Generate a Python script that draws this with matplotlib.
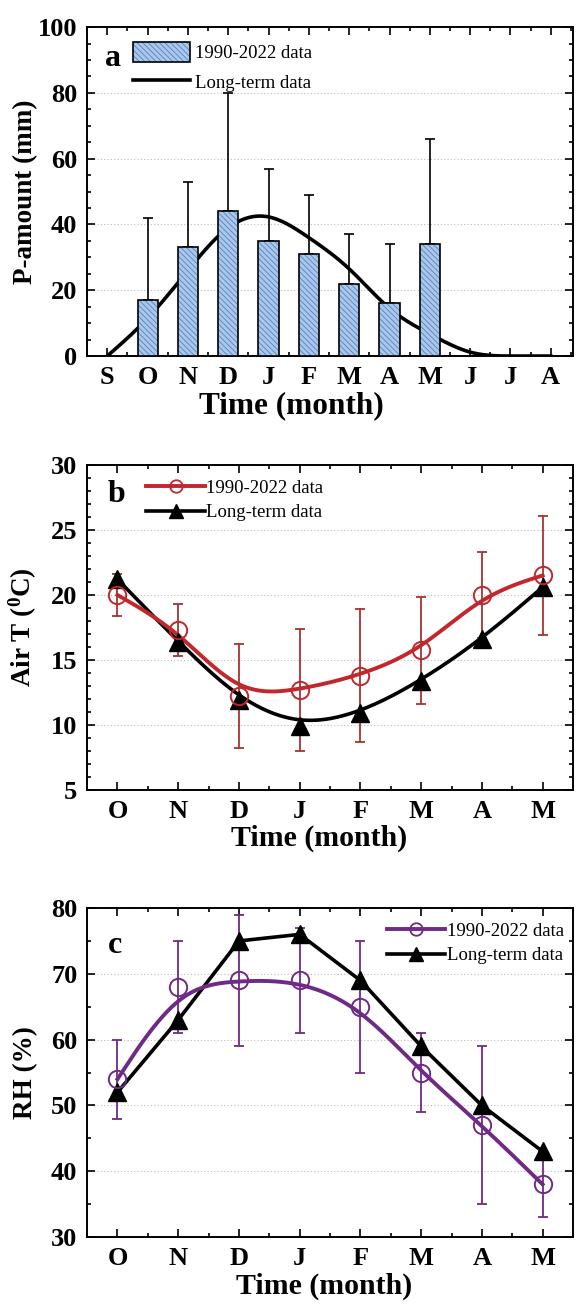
import numpy as np
import matplotlib
matplotlib.use("Agg")
import matplotlib.pyplot as plt
from matplotlib.ticker import MultipleLocator

plt.rcParams['font.family'] = ['Liberation Serif', 'DejaVu Serif']
plt.rcParams['hatch.linewidth'] = 0.6
plt.rcParams['mathtext.fontset'] = 'custom'
plt.rcParams['mathtext.rm'] = 'Liberation Serif'
plt.rcParams['mathtext.bf'] = 'Liberation Serif:bold'

# ---------------- data ----------------
months_a = ['S', 'O', 'N', 'D', 'J', 'F', 'M', 'A', 'M', 'J', 'J', 'A']
p_recent = [17, 33, 44, 35, 31, 22, 16, 34]          # O..M bars
p_recent_err = [25, 20, 36, 22, 18, 15, 18, 32]      # upper error
p_long = [0, 11.5, 26, 39, 42.3, 36, 26.5, 14.5, 6.7, 1.2, 0, 0]

months_bc = ['O', 'N', 'D', 'J', 'F', 'M', 'A', 'M']
t_recent = [20.0, 17.3, 12.2, 12.7, 13.8, 15.75, 20.0, 21.5]
t_recent_err = [1.6, 2.0, 4.0, 4.7, 5.1, 4.1, 3.3, 4.6]
t_long = [21.2, 16.4, 11.9, 9.9, 10.9, 13.4, 16.6, 20.6]

rh_recent = [54, 68, 69, 69, 65, 55, 47, 38]
rh_recent_err = [6, 7, 10, 8, 10, 6, 12, 5]
rh_long = [52, 63, 75, 76, 69, 59, 50, 43]


def natural_spline(x, y, n=300):
    x = np.asarray(x, float)
    y = np.asarray(y, float)
    m = len(x)
    h = np.diff(x)
    A = np.zeros((m, m))
    b = np.zeros(m)
    A[0, 0] = 1
    A[-1, -1] = 1
    for i in range(1, m - 1):
        A[i, i - 1] = h[i - 1]
        A[i, i] = 2 * (h[i - 1] + h[i])
        A[i, i + 1] = h[i]
        b[i] = 3 * ((y[i + 1] - y[i]) / h[i] - (y[i] - y[i - 1]) / h[i - 1])
    c = np.linalg.solve(A, b)
    xs = np.linspace(x[0], x[-1], n)
    ys = np.empty_like(xs)
    for k, xv in enumerate(xs):
        i = min(np.searchsorted(x, xv, side='right') - 1, m - 2)
        dx = xv - x[i]
        bi = (y[i + 1] - y[i]) / h[i] - h[i] * (2 * c[i] + c[i + 1]) / 3
        di = (c[i + 1] - c[i]) / (3 * h[i])
        ys[k] = y[i] + bi * dx + c[i] * dx ** 2 + di * dx ** 3
    return xs, ys


def bspline(x, y, n=40):
    """Uniform cubic B-spline using the data as control points (clamped ends)."""
    px = np.concatenate([[x[0]] * 2, x, [x[-1]] * 2]).astype(float)
    py = np.concatenate([[y[0]] * 2, y, [y[-1]] * 2]).astype(float)
    t = np.linspace(0, 1, n)
    b0 = (1 - t) ** 3 / 6
    b1 = (3 * t ** 3 - 6 * t ** 2 + 4) / 6
    b2 = (-3 * t ** 3 + 3 * t ** 2 + 3 * t + 1) / 6
    b3 = t ** 3 / 6
    xs, ys = [], []
    for i in range(len(px) - 3):
        xs.append(b0 * px[i] + b1 * px[i + 1] + b2 * px[i + 2] + b3 * px[i + 3])
        ys.append(b0 * py[i] + b1 * py[i + 1] + b2 * py[i + 2] + b3 * py[i + 3])
    return np.concatenate(xs), np.concatenate(ys)


fig = plt.figure(figsize=(5.77, 13.09), dpi=100)

TICK_FS = 19
YLAB_FS = 19.5
XLAB_FS = 21.5
LEG_FS = 13.5
LET_FS = 23


def style_axes(ax, ymajor, yminor, xlab_x, xlab_fs=XLAB_FS):
    ax.tick_params(which='both', direction='in', top=True, right=True,
                   labelsize=TICK_FS, width=1.2)
    ax.tick_params(which='major', length=6)
    ax.tick_params(which='minor', length=3)
    ax.tick_params(axis='x', which='major', pad=7)
    ax.tick_params(axis='y', which='major', pad=7)
    ax.yaxis.set_major_locator(MultipleLocator(ymajor))
    ax.yaxis.set_minor_locator(MultipleLocator(yminor))
    ax.xaxis.set_minor_locator(MultipleLocator(0.5))
    for lab in ax.get_xticklabels() + ax.get_yticklabels():
        lab.set_fontweight('bold')
    for s in ax.spines.values():
        s.set_linewidth(1.4)
    ax.yaxis.grid(True, which='major', linestyle=(0, (1, 2)), color='#BBBBBB', linewidth=0.8)
    ax.set_axisbelow(True)
    ax.set_xlabel('Time (month)', fontsize=xlab_fs, fontweight='bold', labelpad=4)
    ax.xaxis.set_label_coords(xlab_x, -0.108)


# ---------------- panel a ----------------
axa = fig.add_axes([0.151, 0.728, 0.842, 0.2513])
xa = np.arange(len(months_a))
xbar = xa[1:1 + len(p_recent)]
xs, ys = natural_spline(xa, p_long)
ys = np.clip(ys, 0, None)
axa.plot(xs, ys, color='black', lw=2.6, zorder=2)
b1 = axa.bar(xbar, p_recent, width=0.5, color='#A9C7EC', edgecolor='#5A82B8',
             hatch='\\' * 6, linewidth=0, zorder=3)
b2 = axa.bar(xbar, p_recent, width=0.5, fill=False, edgecolor='black', linewidth=1.2, zorder=4)
axa.errorbar(xbar, p_recent, yerr=[np.zeros(len(p_recent)), p_recent_err], fmt='none',
             ecolor='black', elinewidth=1.2, capsize=3.5, capthick=1.2, zorder=2.5)
axa.set_xlim(-0.5, 11.55)
axa.set_ylim(0, 100)
axa.set_xticks(xa)
axa.set_xticklabels(months_a)
style_axes(axa, 20, 5, 0.42, 22.5)
axa.set_ylabel('P-amount (mm)', fontsize=YLAB_FS, fontweight='bold')
axa.yaxis.set_label_coords(-0.1, 0.5)
lline, = axa.plot([], [], color='black', lw=2.6)
axa.legend([(b1[0], b2[0]), lline], ['1990-2022 data', 'Long-term data'],
           loc='upper left', bbox_to_anchor=(0.072, 0.99), frameon=False,
           fontsize=LEG_FS, handlelength=3.0, handleheight=1.3, handletextpad=0.3,
           labelspacing=0.5, borderaxespad=0.2)
axa.text(0.037, 0.905, 'a', transform=axa.transAxes, fontsize=LET_FS, fontweight='bold',
         va='center', ha='left')

# ---------------- panel b ----------------
RED = '#C1272D'
ERR_RED = '#A8332F'
axb = fig.add_axes([0.151, 0.3965, 0.842, 0.2483])
xb = np.arange(len(months_bc))
xs, ys = bspline(xb, t_long)
axb.plot(xs, ys, color='black', lw=2.6, zorder=2)
xs, ys = bspline(xb, t_recent)
axb.plot(xs, ys, color=RED, lw=2.8, zorder=3)
axb.errorbar(xb, t_recent, yerr=t_recent_err, fmt='none', ecolor=ERR_RED,
             elinewidth=1.3, capsize=3.5, capthick=1.3, zorder=4)
axb.plot(xb, t_long, linestyle='none', marker='^', ms=13, color='black', zorder=5)
axb.plot(xb, t_recent, linestyle='none', marker='o', ms=12.5, mfc='none', mec=RED, mew=1.4, zorder=6)
axb.set_xlim(-0.5, 7.5)
axb.set_ylim(5, 30)
axb.set_xticks(xb)
axb.set_xticklabels(months_bc)
style_axes(axb, 5, 1, 0.477)
axb.set_ylabel('Air T ($\\mathbf{^{0}}$C)', fontsize=YLAB_FS, fontweight='bold')
axb.yaxis.set_label_coords(-0.1, 0.5)
h1, = axb.plot([], [], color=RED, lw=2.8, marker='o', ms=9, mfc='none', mec=RED, mew=1.3)
h2, = axb.plot([], [], color='black', lw=2.6, marker='^', ms=10)
axb.legend([h1, h2], ['1990-2022 data', 'Long-term data'], loc='upper left',
           bbox_to_anchor=(0.099, 0.99), frameon=False, fontsize=LEG_FS,
           handlelength=3.1, handletextpad=0.1, labelspacing=0.4, borderaxespad=0.2)
axb.text(0.043, 0.91, 'b', transform=axb.transAxes, fontsize=LET_FS, fontweight='bold',
         va='center', ha='left')

# ---------------- panel c ----------------
PUR = '#6E2A86'
axc = fig.add_axes([0.151, 0.055, 0.842, 0.2513])
xc = np.arange(len(months_bc))
axc.plot(xc, rh_long, color='black', lw=2.6, zorder=2)
xs, ys = bspline(xc, rh_recent)
axc.plot(xs, ys, color=PUR, lw=2.8, zorder=3)
axc.errorbar(xc, rh_recent, yerr=rh_recent_err, fmt='none', ecolor=PUR,
             elinewidth=1.3, capsize=3.5, capthick=1.3, zorder=4)
axc.plot(xc, rh_long, linestyle='none', marker='^', ms=13, color='black', zorder=5)
axc.plot(xc, rh_recent, linestyle='none', marker='o', ms=12.5, mfc='none', mec=PUR, mew=1.4, zorder=6)
axc.set_xlim(-0.5, 7.5)
axc.set_ylim(30, 80)
axc.set_xticks(xc)
axc.set_xticklabels(months_bc)
style_axes(axc, 10, 5, 0.488)
axc.set_ylabel('RH (%)', fontsize=YLAB_FS, fontweight='bold')
axc.yaxis.set_label_coords(-0.1, 0.5)
h1, = axc.plot([], [], color=PUR, lw=2.8, marker='o', ms=9, mfc='none', mec=PUR, mew=1.3)
h2, = axc.plot([], [], color='black', lw=2.6, marker='^', ms=10)
axc.legend([h1, h2], ['1990-2022 data', 'Long-term data'], loc='upper right',
           bbox_to_anchor=(1.005, 0.99), frameon=False, fontsize=LEG_FS,
           handlelength=3.1, handletextpad=0.1, labelspacing=0.4, borderaxespad=0.2)
axc.text(0.043, 0.885, 'c', transform=axc.transAxes, fontsize=LET_FS, fontweight='bold',
         va='center', ha='left')

fig.savefig('out.png', dpi=100)
